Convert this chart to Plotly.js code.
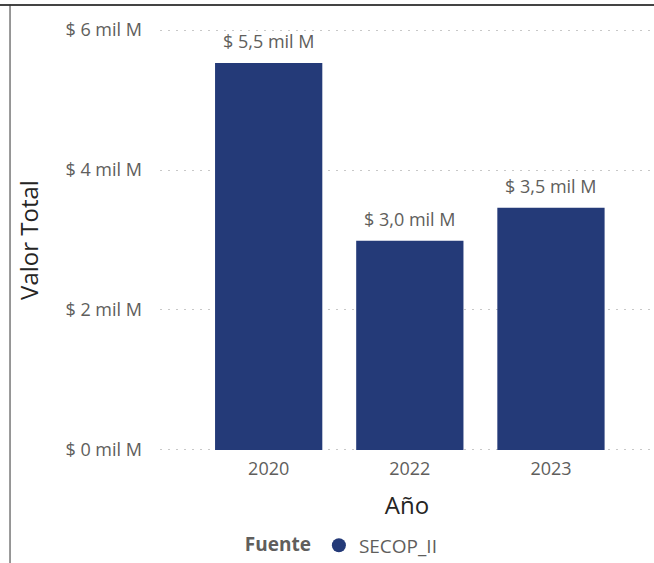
<!DOCTYPE html>
<html>
<head>
<meta charset="utf-8">
<script src="https://cdn.plot.ly/plotly-3.0.1.min.js"></script>
<style>
html,body{margin:0;padding:0;background:#fff;}
#chart{width:654px;height:563px;}
</style>
</head>
<body>
<div id="chart"></div>
<script>
const years = ["2020", "2022", "2023"];
const valores = [5.53, 2.99, 3.46];
const etiquetas = ["$ 5,5 mil M", "$ 3,0 mil M", "$ 3,5 mil M"];
const tickValues = [0, 2, 4, 6];
const tickLabels = ["$ 0 mil M", "$ 2 mil M", "$ 4 mil M", "$ 6 mil M"];
const seriesName = "SECOP_II";

const barColor = "#243A78";
const font = "'Open Sans', 'Segoe UI', sans-serif";

const traces = [
  {
    type: "bar",
    x: years,
    y: valores,
    marker: {color: barColor},
    showlegend: false,
    hoverinfo: "skip"
  },
  {
    type: "scatter",
    mode: "markers",
    x: [null],
    y: [null],
    name: seriesName,
    marker: {color: barColor, size: 14, symbol: "circle"},
    showlegend: true
  }
];

// category axis: annotation x is the category's index on the axis
const annotations = years.map((yr, i) => ({
  x: years.indexOf(yr),
  y: valores[i],
  xref: "x",
  yref: "y",
  text: etiquetas[i],
  showarrow: false,
  yanchor: "bottom",
  yshift: 8,
  font: {family: font, size: 18, color: "#605E5C"}
}));

const layout = {
  width: 654,
  height: 563,
  margin: {l: 160, r: 0, t: 28, b: 111},
  paper_bgcolor: "#fff",
  plot_bgcolor: "#fff",
  separators: ",.",
  bargap: 0.24,
  font: {family: font, color: "#605E5C"},
  xaxis: {
    type: "category",
    range: [-0.77, 2.73],
    showgrid: false,
    zeroline: false,
    showline: false,
    ticks: "",
    ticklabelstandoff: 4,
    tickfont: {size: 18, color: "#605E5C"},
    title: {text: "Año", font: {size: 24, color: "#252423"}, standoff: 18},
    automargin: true,
    fixedrange: true
  },
  yaxis: {
    range: [-0.03, 6.03],
    tickvals: tickValues,
    ticktext: tickLabels,
    showgrid: true,
    gridcolor: "#C8C8C8",
    griddash: "2px,6px",
    gridwidth: 1,
    zeroline: false,
    showline: false,
    ticks: "",
    ticklabelstandoff: 17,
    tickfont: {size: 18, color: "#605E5C"},
    title: {text: "Valor Total", font: {size: 24, color: "#252423"}, standoff: 20},
    automargin: true,
    fixedrange: true
  },
  showlegend: true,
  legend: {
    orientation: "h",
    x: 0.37,
    xanchor: "center",
    yref: "container",
    y: 0.065,
    yanchor: "top",
    title: {text: "<b>Fuente</b>", font: {size: 19, color: "#605E5C"}},
    font: {size: 19, color: "#605E5C"},
    itemwidth: 20,
    tracegroupgap: 0
  },
  annotations: annotations,
  shapes: [
    {type: "line", xref: "paper", yref: "paper", x0: -0.33, x1: 1.01, y0: 1.0545, y1: 1.0545,
     line: {color: "#444", width: 2}},
    {type: "line", xref: "paper", yref: "paper", x0: -0.3036, x1: -0.3036, y0: 1.055, y1: -0.3,
     line: {color: "#333", width: 1}}
  ]
};

Plotly.newPlot("chart", traces, layout, {displayModeBar: false, staticPlot: true});
</script>
</body>
</html>
